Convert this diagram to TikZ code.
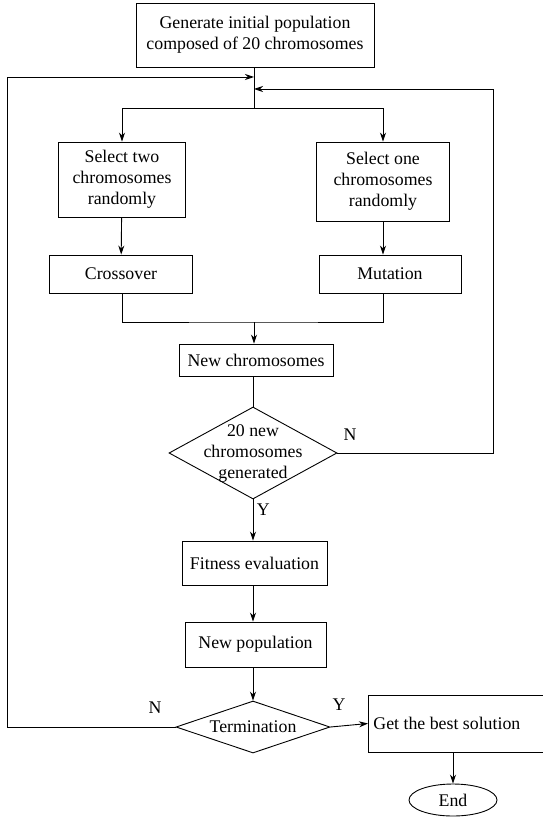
\documentclass[tikz,border=0pt]{standalone}
\usepackage{fontspec}
\setmainfont{Liberation Serif}
\usetikzlibrary{positioning, calc, shapes.geometric, arrows.meta}

\begin{document}
\begin{tikzpicture}[x=1pt, y=-1pt, line width=0.9pt, >={Stealth[length=9pt, width=6pt]},
                    every node/.style={font=\fontsize{17.8}{21}\selectfont},
                    blk/.style={draw, rectangle, align=center, inner sep=0pt},
                    decision/.style={draw, diamond, inner sep=0pt}]
                    \useasboundingbox (0,0) rectangle (542,818);
                    \node[blk, minimum width=238pt, minimum height=64pt] (init) at (255, 35) {Generate initial population\\composed of 20 chromosomes};
                    \node[blk, minimum width=127pt, minimum height=75pt] (seltwo) at (122, 179.5) {Select two\\chromosomes\\randomly};
                    \node[blk, minimum width=133pt, minimum height=79pt] (selone) at (383, 181.5) {Select one\\chromosomes\\randomly};
                    \node[blk, minimum width=143pt, minimum height=38pt] (cross) at (121, 274) {Crossover};
                    \node[blk, minimum width=142pt, minimum height=38pt] (mut) at (390, 274) {Mutation};
                    \node[blk, minimum width=154pt, minimum height=32pt] (newchr) at (256, 360) {New chromosomes};
                    \node[decision, minimum width=168pt, minimum height=92pt] (check) at (253, 453) {};
                    \node[align=center] at (check) {20 new\\chromosomes\\generated};
                    \node[blk, minimum width=145pt, minimum height=44pt] (fit) at (254.5, 563) {Fitness evaluation};
                    \node[blk, minimum width=141pt, minimum height=45pt] (newpop) at (255.5, 644.5) {New population};
                    \node[decision, minimum width=154pt, minimum height=52pt] (term) at (253, 727) {};
                    \node at (term) {Termination};
                    \node[blk, anchor=west, text width=170pt, align=flush left, inner xsep=5pt, minimum height=57pt] (best) at (368, 723.5) {Get the best solution};
                    \node[draw, ellipse, minimum width=88pt, minimum height=32pt, inner sep=0pt] (end) at (453, 800) {End};
                    \coordinate (split) at (254, 108);
                    \coordinate (merge) at (254, 322);
                    \coordinate (backN) at (254, 77);
                    \coordinate (backM) at (254, 89);
                    \draw (init.south -| split) -- (split);
                    \draw[->] (split) -| (seltwo.north);
                    \draw[->] (split) -| (selone.north);
                    \draw[->] (seltwo) -- (cross);
                    \draw[->] (selone.south) -- (selone.south |- mut.north);
                    \draw (cross.south -| seltwo) |- (merge) -| (mut.south -| selone);
                    \draw[->] (merge) -- (newchr.north -| merge);
                    \draw (newchr.south -| check) -- (check.north);
                    \draw[->] (check.south) -- (fit.north -| check) node[pos=0.25, right] {Y};
                    \draw[->] (check.east) -- ++(156, 0) |- (backM);
                    \node at (350, 435) {N};
                    \draw[->] (fit.south -| check) -- (newpop.north -| check);
                    \draw[->] (newpop.south -| check) -- (term.north);
                    \draw[->] (term.east) -- (best.west);
                    \node at (339, 705) {Y};
                    \draw[->] (term.west) -- ++(-168, 0) |- (backN);
                    \node at (155, 708) {N};
                    \draw[->] (best.south -| end) -- (end.north);
                \end{tikzpicture}
\end{document}
